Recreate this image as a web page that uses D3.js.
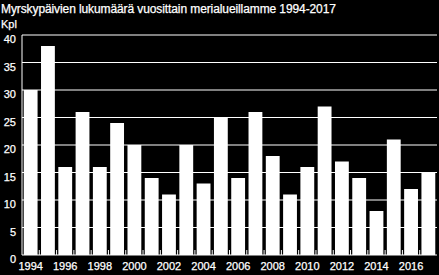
<!DOCTYPE html>
<html>
<head>
<meta charset="utf-8">
<script src="https://cdn.jsdelivr.net/npm/d3@7"></script>
<style>
  html, body { margin: 0; padding: 0; background: #000; }
  svg { display: block; font-family: "Liberation Sans", Arial, sans-serif; }
  text { fill: #fff; stroke: #fff; stroke-width: 0.25; }
</style>
</head>
<body>
<svg id="chart" width="439" height="275"></svg>
<script>
const years = d3.range(1994, 2018);
const stormDays = [30, 38, 16, 26, 16, 24, 20, 14, 11, 20, 13, 25,
  14, 26, 18, 11, 16, 27, 17, 14, 8, 21, 12, 15];
const yTicks = [0, 5, 10, 15, 20, 25, 30, 35, 40];
const title = 'Myrskypäivien lukumäärä vuosittain merialueillamme 1994-2017';
const unitLabel = 'Kpl';

const svg = d3.select('#chart');
const W = 439, H = 275;
const margin = { top: 35, right: 2, bottom: 20, left: 22 };

svg.append('rect').attr('width', W).attr('height', H).attr('fill', '#000');

const x = d3.scaleBand()
  .domain(years)
  .range([margin.left, W - margin.right])
  .paddingInner(0.2)
  .paddingOuter(0.1);

const y = d3.scaleLinear()
  .domain([0, 40])
  .range([H - margin.bottom, margin.top]);

// title and unit
svg.append('text')
  .attr('x', 1).attr('y', 13)
  .attr('font-size', 12)
  .attr('letter-spacing', -0.1)
  .text(title);

svg.append('text')
  .attr('x', 1).attr('y', 28)
  .attr('font-size', 11)
  .text(unitLabel);

// gridlines
svg.append('g')
  .selectAll('line')
  .data(yTicks)
  .join('line')
  .attr('x1', margin.left)
  .attr('x2', W - margin.right)
  .attr('y1', d => y(d))
  .attr('y2', d => y(d))
  .attr('stroke', '#fff')
  .attr('stroke-width', 1);

// left axis line
svg.append('line')
  .attr('x1', margin.left).attr('x2', margin.left)
  .attr('y1', y(40)).attr('y2', y(0))
  .attr('stroke', '#fff');

// y labels, sitting just under each gridline
svg.append('g')
  .selectAll('text')
  .data(yTicks)
  .join('text')
  .attr('x', 16)
  .attr('y', d => y(d) + 8)
  .attr('text-anchor', 'end')
  .attr('font-size', 11)
  .text(d => d);

// bars
svg.append('g')
  .selectAll('rect')
  .data(stormDays)
  .join('rect')
  .attr('x', (d, i) => x(years[i]))
  .attr('width', x.bandwidth())
  .attr('y', d => y(d))
  .attr('height', d => y(0) - y(d))
  .attr('fill', '#fff');

// small ticks between bars
const step = x.step();
svg.append('g')
  .selectAll('line')
  .data(years.slice(1))
  .join('line')
  .attr('x1', d => x(d) - step * 0.1)
  .attr('x2', d => x(d) - step * 0.1)
  .attr('y1', y(0))
  .attr('y2', y(0) - 5)
  .attr('stroke', '#fff');

// x labels every other year
svg.append('g')
  .selectAll('text')
  .data(years.filter(d => d % 2 === 0))
  .join('text')
  .attr('x', d => x(d) + x.bandwidth() / 2)
  .attr('y', 270)
  .attr('text-anchor', 'middle')
  .attr('font-size', 11)
  .text(d => d);
</script>
</body>
</html>
